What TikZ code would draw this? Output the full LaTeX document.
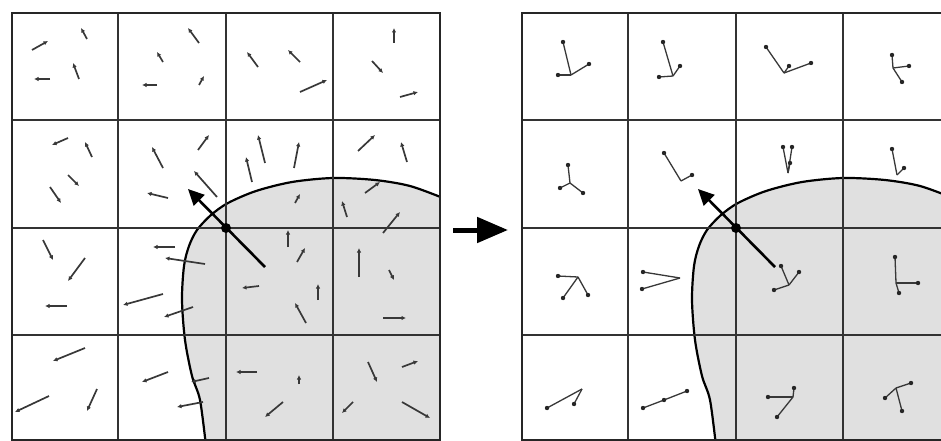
\documentclass[tikz,border=0pt]{standalone}
\usetikzlibrary{arrows.meta}
\tikzset{
  gridouter/.style={line width=2.8pt, draw=black!85},
  gridinner/.style={line width=1.8pt, draw=black!80},
  grad/.style={line width=1.7pt, draw=black!78, -{Latex[length=4.5pt,width=4.5pt]}},
  histline/.style={line width=1.3pt, draw=black!78},
  histdot/.style={fill=black!85},
  curveline/.style={line width=2.2pt, draw=black},
  region/.style={fill=black!12},
  orient/.style={line width=2.6pt, draw=black, -{Triangle[length=16pt,width=15pt]}},
  bigarrow/.style={line width=5pt, draw=black, -{Triangle[length=31pt,width=25pt]}},
  kpdot/.style={circle, fill=black, inner sep=0pt, minimum size=10pt}
}
\newcommand\gridbase[1]{%
  \begin{scope}
    \clip (12,13) rectangle (440,441);
    \fill[region] plot[smooth] coordinates {(206,446) (200,400) (192,376) (185,340) (182,300) (184,266) (189,246) (197,230) (211,215) (228,203) (256,191) (292,182) (333,178) (375,180) (410,186) (443,198)} -- (446,198) -- (446,446) -- cycle;
    \draw[curveline] plot[smooth] coordinates {(206,446) (200,400) (192,376) (185,340) (182,300) (184,266) (189,246) (197,230) (211,215) (228,203) (256,191) (292,182) (333,178) (375,180) (410,186) (443,198)};
  \end{scope}
  \foreach \v in {118,226,333} \draw[gridinner] (\v,13) -- (\v,440);
  \foreach \h in {120,228,335} \draw[gridinner] (12,\h) -- (440,\h);
  \draw[gridouter] (12,13) rectangle (440,440);
  \coordinate (#1tail) at (265,267);
  \coordinate (#1tip) at (188,189);
  \draw[orient] (#1tail) -- (#1tip);
  \node[kpdot] (#1kp) at (226,228) {};
}
\newcommand\ga[2]{\draw[grad] (#1) -- (#2);}
\newcommand\hist[2]{\foreach \a/\b in {#2} {\draw[histline] (#1) -- (\a,\b); \fill[histdot] (\a,\b) circle (2.2pt);}}
\begin{document}
\begin{tikzpicture}[x=1pt,y=-1pt]
\useasboundingbox (0,0) rectangle (941,441);
% left grid
\gridbase{L}
% cell row 0
\ga{32,50}{48,41}
\ga{87,39}{81,28}
\ga{79,79}{73,63}
\ga{50,79}{34,79}
\ga{199,43}{188,28}
\ga{163,62}{157,52}
\ga{157,85}{142,85}
\ga{199,85}{204,76}
\ga{258,67}{247,52}
\ga{300,62}{288,50}
\ga{300,92}{327,80}
\ga{394,43}{394,28}
\ga{372,61}{383,73}
\ga{400,97}{418,92}
% row 1
\ga{68,138}{52,145}
\ga{92,157}{85,142}
\ga{68,175}{79,186}
\ga{50,187}{61,203}
\ga{163,168}{152,147}
\ga{198,150}{209,135}
\ga{217,197}{194,171}
\ga{168,198}{147,193}
\ga{265,163}{258,135}
\ga{252,182}{246,157}
\ga{294,168}{299,142}
\ga{295,203}{300,194}
\ga{358,151}{375,135}
\ga{407,162}{401,142}
\ga{365,193}{380,182}
\ga{347,217}{342,201}
\ga{383,233}{400,212}
% row 2
\ga{43,240}{53,260}
\ga{85,258}{68,281}
\ga{67,306}{45,306}
\ga{175,247}{153,247}
\ga{205,264}{165,258}
\ga{163,294}{123,305}
\ga{193,307}{164,317}
\ga{288,247}{288,230}
\ga{297,262}{305,248}
\ga{259,286}{242,288}
\ga{318,300}{318,284}
\ga{306,323}{295,303}
\ga{359,277}{359,248}
\ga{389,270}{394,280}
\ga{383,318}{406,318}
% row 3
\ga{85,348}{53,361}
\ga{49,396}{15,412}
\ga{97,389}{87,411}
\ga{168,372}{142,382}
\ga{209,378}{191,382}
\ga{203,402}{177,407}
\ga{257,372}{236,372}
\ga{299,384}{299,375}
\ga{283,402}{265,417}
\ga{368,362}{377,382}
\ga{402,367}{418,361}
\ga{353,402}{342,413}
\ga{402,402}{430,418}
% right grid
\begin{scope}[xshift=510pt]
\gridbase{R}
\end{scope}
\hist{571,75}{563/42, 589/64, 558/75}
\hist{673,76}{663/42, 680/66, 659/77}
\hist{784,73}{766/47, 811/63, 789/66}
\hist{893,68}{892/55, 909/66, 902/82}
\hist{570,183}{568/165, 583/193, 560/188}
\hist{681,181}{664/153, 692/175}
\hist{788,173}{783/147, 792/147, 790/163}
\hist{897,175}{892/149, 904/168}
\hist{578,277}{558/276, 563/298, 588/295}
\hist{680,278}{643/272, 642/289}
\hist{789,285}{781/266, 799/272, 774/290}
\hist{896,283}{895/257, 918/283, 899/293}
\hist{582,389}{547/408, 574/404}
\hist{664,400}{643/408, 687/391, 664/400}
\hist{793,397}{768/397, 794/388, 777/417}
\hist{896,388}{911/383, 885/398, 902/411}
% middle arrow
\coordinate (mstart) at (453,230);
\coordinate (mend) at (508,230);
\draw[bigarrow] (mstart) -- (mend);
\end{tikzpicture}
\end{document}
